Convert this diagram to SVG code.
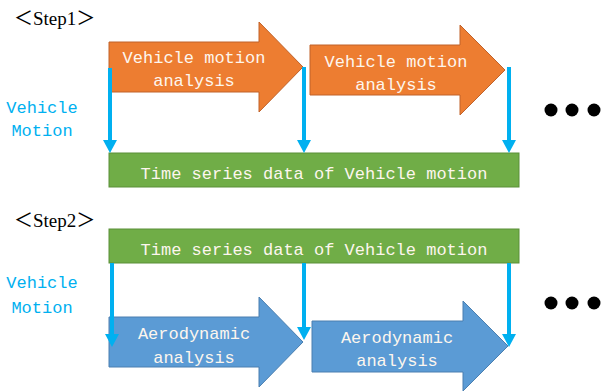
<svg xmlns="http://www.w3.org/2000/svg" width="601" height="392" viewBox="0 0 601 392">
<defs>
<style>
.mono{font-family:"Liberation Mono","DejaVu Sans Mono",monospace;font-size:17px;text-anchor:middle}
.w{fill:#fdf6ee}
.cy{fill:#00b0f0}
.step{font-family:"Liberation Serif","Noto Sans CJK SC",serif;font-size:19px;fill:#000}
.orange{fill:#ed7d31;stroke:#c0622a;stroke-width:1}
.blue{fill:#5b9bd5;stroke:#4a7fb0;stroke-width:1}
.green{fill:#70ad47;stroke:#5a8f38;stroke-width:1}
.conn{stroke:#00b0f0;stroke-width:4;fill:none}
</style>
<marker id="ah" markerUnits="userSpaceOnUse" markerWidth="16" markerHeight="14" refX="7" refY="13" orient="auto-start-reverse" viewBox="0 0 14 14">
<path d="M0,0 L14,0 L7,13 Z" fill="#00b0f0" transform="rotate(0)"/>
</marker>
</defs>
<rect width="601" height="392" fill="#fff"/>

<text class="step" x="14" y="25">＜Step1＞</text>
<text class="step" x="14" y="227">＜Step2＞</text>

<g id="vm1"><text class="mono cy" x="42" y="113">Vehicle</text><text class="mono cy" x="42" y="136">Motion</text></g>
<g id="vm2"><text class="mono cy" x="42" y="288">Vehicle</text><text class="mono cy" x="42" y="313">Motion</text></g>

<g id="va1">
<path class="orange" d="M109,42 H259 V22 L303,67 L259,112 V92 H109 Z"/>
<text class="mono w" x="194" y="63">Vehicle motion</text>
<text class="mono w" x="194" y="86">analysis</text>
</g>
<g id="va2">
<path class="orange" d="M310,45 H460 V25 L505,70 L460,115 V95 H310 Z"/>
<text class="mono w" x="396" y="67">Vehicle motion</text>
<text class="mono w" x="396" y="90">analysis</text>
</g>

<g id="ts1">
<rect class="green" x="109" y="153" width="410" height="34"/>
<text class="mono w" x="314" y="179">Time series data of Vehicle motion</text>
</g>
<g id="ts2">
<rect class="green" x="109" y="229" width="410" height="34"/>
<text class="mono w" x="314" y="255">Time series data of Vehicle motion</text>
</g>

<g id="aa1">
<path class="blue" d="M109,317 H259 V297 L303,342 L259,387 V367 H109 Z"/>
<text class="mono w" x="194" y="339">Aerodynamic</text>
<text class="mono w" x="194" y="363">analysis</text>
</g>
<g id="aa2">
<path class="blue" d="M312,321 H463 V301 L508,346 L463,391 V372 H312 Z"/>
<text class="mono w" x="397" y="343">Aerodynamic</text>
<text class="mono w" x="397" y="366">analysis</text>
</g>

<g id="dots1" fill="#000"><circle cx="551" cy="110" r="6.5"/><circle cx="572" cy="110" r="6.5"/><circle cx="594" cy="110" r="6.5"/></g>
<g id="dots2" fill="#000"><circle cx="551" cy="303" r="6.5"/><circle cx="572" cy="303" r="6.5"/><circle cx="594" cy="303" r="6.5"/></g>

<g id="connectors">
<path d="M110,68 V141" class="conn"/><path d="M103,140 L117,140 L110,153 Z" fill="#00b0f0"/>
<path d="M304,67 V141" class="conn"/><path d="M297,140 L311,140 L304,153 Z" fill="#00b0f0"/>
<path d="M509,67 V141" class="conn"/><path d="M502,140 L516,140 L509,153 Z" fill="#00b0f0"/>
<path d="M112,263 V335" class="conn"/><path d="M105,334 L119,334 L112,347 Z" fill="#00b0f0"/>
<path d="M304,263 V328" class="conn"/><path d="M297,327 L311,327 L304,340 Z" fill="#00b0f0"/>
<path d="M509,263 V335" class="conn"/><path d="M502,334 L516,334 L509,347 Z" fill="#00b0f0"/>
</g>
</svg>
